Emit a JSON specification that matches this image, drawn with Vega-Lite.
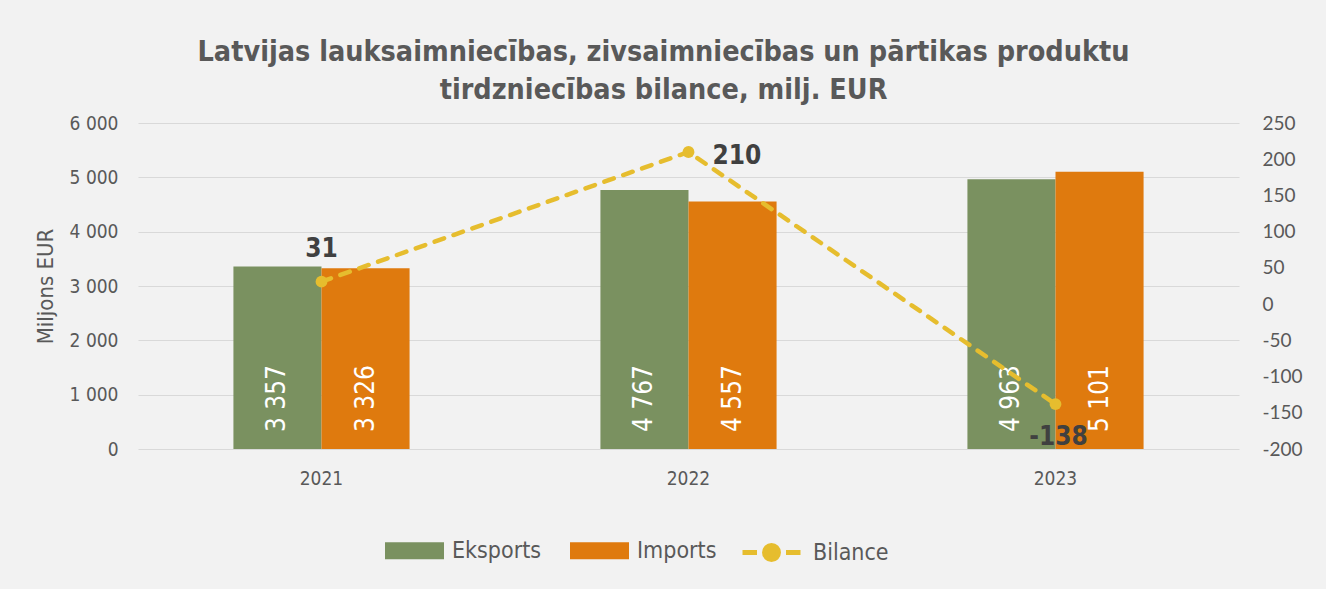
{
  "$schema": "https://vega.github.io/schema/vega-lite/v6.json",
  "width": 1101,
  "height": 326,
  "autosize": {"type": "none"},
  "padding": {"left": 138, "top": 123, "right": 87, "bottom": 140},
  "background": "#f2f2f2",
  "title": {
    "text": ["Latvijas lauksaimniecības, zivsaimniecības  un pārtikas produktu", "tirdzniecības bilance, milj. EUR"],
    "anchor": "middle",
    "font": "'DejaVu Sans Condensed', 'Liberation Sans', sans-serif",
    "fontSize": 28.5,
    "fontWeight": "bold",
    "color": "#595959",
    "lineHeight": 38,
    "dx": -25,
    "offset": 10
  },
  "datasets": {
    "trade": [
      {"year": "2021", "series": "Eksports", "value": 3357},
      {"year": "2021", "series": "Imports", "value": 3326},
      {"year": "2022", "series": "Eksports", "value": 4767},
      {"year": "2022", "series": "Imports", "value": 4557},
      {"year": "2023", "series": "Eksports", "value": 4963},
      {"year": "2023", "series": "Imports", "value": 5101}
    ],
    "balance": [
      {"year": "2021", "bilance": 31},
      {"year": "2022", "bilance": 210},
      {"year": "2023", "bilance": -138}
    ]
  },
  "config": {
    "locale": {"number": {"decimal": ",", "thousands": " ", "grouping": [3], "currency": ["", " €"], "minus": "-"}},
    "view": {"stroke": null}
  },
  "encoding": {
    "x": {
      "field": "year",
      "type": "nominal",
      "scale": {"paddingInner": 0.52, "paddingOuter": 0.26},
      "axis": {
        "title": null,
        "labelAngle": 0,
        "labelFont": "'DejaVu Sans Condensed', 'Liberation Sans', sans-serif",
        "labelFontSize": 19,
        "labelColor": "#595959",
        "domain": false,
        "ticks": false,
        "labelPadding": 20
      }
    }
  },
  "layer": [
    {
      "data": {"name": "trade"},
      "encoding": {
        "xOffset": {"field": "series", "type": "nominal", "sort": ["Eksports", "Imports"], "scale": {"paddingInner": 0, "paddingOuter": 0}}
      },
      "layer": [
        {
          "mark": {"type": "bar"},
          "encoding": {
            "y": {
              "field": "value",
              "type": "quantitative",
              "scale": {"domain": [0, 6000], "nice": false},
              "axis": {
                "title": "Miljons EUR",
                "titleFont": "'DejaVu Sans Condensed', 'Liberation Sans', sans-serif",
                "titleFontSize": 22,
                "titleFontWeight": "normal",
                "titleColor": "#595959",
                "titlePadding": 12,
                "labelFont": "'DejaVu Sans Condensed', 'Liberation Sans', sans-serif",
                "labelFontSize": 19,
                "labelColor": "#595959",
                "labelPadding": 20,
                "ticks": false,
                "domain": false,
                "grid": true,
                "gridColor": "#d9d9d9",
                "gridWidth": 1,
                "values": [0, 1000, 2000, 3000, 4000, 5000, 6000],
                "format": ",d"
              }
            },
            "fill": {
              "field": "series",
              "type": "nominal",
              "scale": {"domain": ["Eksports", "Imports"], "range": ["#7a9160", "#df7a0e"]},
              "legend": {
                "orient": "none",
                "legendX": 247,
                "legendY": 398,
                "direction": "horizontal",
                "title": null,
                "symbolType": "M-1,-0.288H1V0.288H-1Z",
                "symbolSize": 3481,
                "symbolStrokeWidth": 0,
                "labelFont": "'DejaVu Sans Condensed', 'Liberation Sans', sans-serif",
                "labelFontSize": 23,
                "labelColor": "#595959",
                "labelOffset": 8,
                "columnPadding": 28
              }
            }
          }
        },
        {
          "mark": {"type": "text", "angle": 270, "align": "left", "baseline": "middle", "dx": 17, "color": "white", "font": "'DejaVu Sans Condensed', 'Liberation Sans', sans-serif", "fontSize": 26},
          "encoding": {
            "y": {"datum": 0, "type": "quantitative"},
            "text": {"field": "value", "type": "quantitative", "format": ",d"}
          }
        }
      ]
    },
    {
      "data": {"name": "balance"},
      "encoding": {
        "y": {
          "field": "bilance",
          "type": "quantitative",
          "scale": {"domain": [-200, 250], "nice": false},
          "axis": {
            "orient": "right",
            "title": null,
            "labelFont": "Lato",
            "labelFontSize": 19,
            "labelColor": "#595959",
            "labelPadding": 23,
            "ticks": false,
            "domain": false,
            "grid": false,
            "values": [-200, -150, -100, -50, 0, 50, 100, 150, 200, 250],
            "format": "d"
          }
        }
      },
      "layer": [
        {
          "mark": {"type": "line", "strokeDash": [10, 10], "strokeWidth": 4.5, "strokeCap": "round"},
          "encoding": {
            "stroke": {
              "datum": "Bilance",
              "scale": {"range": ["#e6bd2e"]},
              "legend": {
                "orient": "none",
                "legendX": 602,
                "legendY": 398,
                "title": null,
                "symbolType": "M-1,0H-0.5M0.5,0H1M-0.24,0A0.24,0.24 0 1,1 0.24,0A0.24,0.24 0 1,1 -0.24,0Z",
                "symbolSize": 3364,
                "symbolStrokeWidth": 5,
                "labelFont": "'DejaVu Sans Condensed', 'Liberation Sans', sans-serif",
                "labelFontSize": 23,
                "labelColor": "#595959",
                "labelOffset": 10,
                "encode": {"symbols": {"update": {"fill": {"value": "#e6bd2e"}, "stroke": {"value": "#e6bd2e"}}}}
              }
            }
          }
        },
        {
          "mark": {"type": "point", "filled": true, "size": 140, "color": "#e6bd2e", "opacity": 1}
        },
        {
          "transform": [{"filter": "datum.year == '2021'"}],
          "mark": {"type": "text", "align": "center", "baseline": "middle", "dy": -33, "font": "'DejaVu Sans Condensed', 'Liberation Sans', sans-serif", "fontSize": 26, "fontWeight": "bold", "color": "#404040"},
          "encoding": {"text": {"field": "bilance", "type": "quantitative", "format": "d"}}
        },
        {
          "transform": [{"filter": "datum.year == '2022'"}],
          "mark": {"type": "text", "align": "left", "baseline": "middle", "dx": 24, "dy": 4, "font": "'DejaVu Sans Condensed', 'Liberation Sans', sans-serif", "fontSize": 26, "fontWeight": "bold", "color": "#404040"},
          "encoding": {"text": {"field": "bilance", "type": "quantitative", "format": "d"}}
        },
        {
          "transform": [{"filter": "datum.year == '2023'"}],
          "mark": {"type": "text", "align": "center", "baseline": "middle", "dx": 3, "dy": 33, "font": "'DejaVu Sans Condensed', 'Liberation Sans', sans-serif", "fontSize": 26, "fontWeight": "bold", "color": "#404040"},
          "encoding": {"text": {"field": "bilance", "type": "quantitative", "format": "d"}}
        }
      ]
    }
  ],
  "resolve": {"scale": {"y": "independent"}}
}
